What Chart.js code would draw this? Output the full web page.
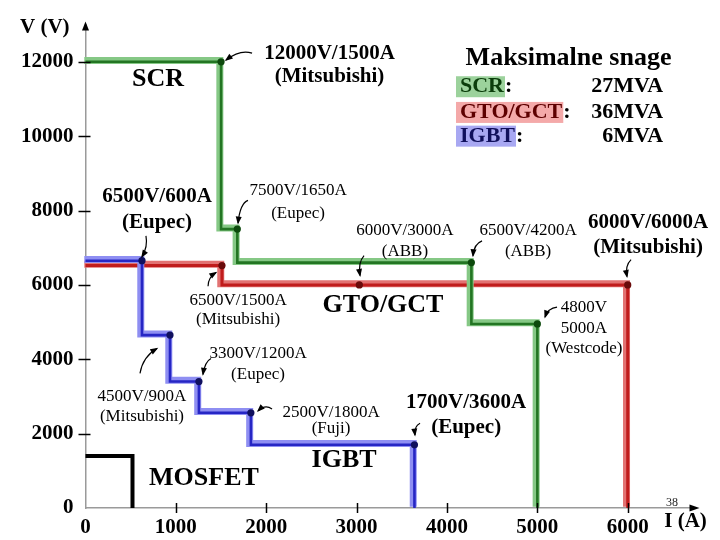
<!DOCTYPE html>
<html><head><meta charset="utf-8">
<script src="https://cdn.jsdelivr.net/npm/chart.js@4.4.1/dist/chart.umd.min.js"></script>
<style>html,body{margin:0;padding:0;background:#fff;}canvas{display:block;}</style>
</head><body>
<canvas id="c" width="720" height="540"></canvas>
<script>
// ---- data ----
const xTicks = [0, 1000, 2000, 3000, 4000, 5000, 6000];
const yTicks = [0, 2000, 4000, 6000, 8000, 10000, 12000];
// device ratings: current (A) and voltage (V)
const scrI  = [1500, 1680, 4270, 5000];
const scrV  = [12000, 7500, 6600, 4950];
const gtoI  = [1510, 3030, 6000];
const gtoV  = [6520, 6000, 6000];
const igbtI = [625, 935, 1255, 1830, 3640];
const igbtV = [6650, 4650, 3400, 2560, 1700];
const mosI  = [520];
const mosV  = [1400];
const legendNames  = ['SCR', 'GTO/GCT', 'IGBT'];
const legendPowers = ['27MVA', '36MVA', '6MVA'];

function stepPts(I, V) {
  const pts = [{x: 0, y: V[0]}];
  for (let k = 0; k < I.length; k++) {
    pts.push({x: I[k], y: V[k]});
    pts.push({x: I[k], y: k + 1 < V.length ? V[k + 1] : 0});
  }
  return pts;
}
function dotPts(I, V) { return I.map((x, k) => ({x: x, y: V[k]})); }

const SERIF = '"Liberation Serif", "Times New Roman", serif';

function lineDs(pts, color, width, halo) {
  return {data: pts, showLine: true, borderColor: color, backgroundColor: color, borderWidth: width,
    pointRadius: 0, pointHoverRadius: 0, tension: 0, fill: false, clip: false,
    borderJoinStyle: 'miter', borderCapStyle: 'butt', halo: !!halo};
}
function dotDs(pts, color) {
  return {data: pts, showLine: false, pointRadius: 3.6, pointBackgroundColor: color,
    pointBorderColor: color, pointBorderWidth: 0, clip: false};
}

// draw order (bottom first)
const drawOrder = [
  lineDs(stepPts(mosI, mosV), '#000000', 4),
  lineDs(stepPts(gtoI, gtoV), '#e27272', 7, true),
  lineDs(stepPts(gtoI, gtoV), '#c01c1c', 3),
  lineDs(stepPts(scrI, scrV), '#85c885', 7, true),
  lineDs(stepPts(scrI, scrV), '#237523', 2.6),
  lineDs(stepPts(igbtI, igbtV), '#8e8ef2', 7, true),
  lineDs(stepPts(igbtI, igbtV), '#2626c4', 2.6),
  dotDs(dotPts(gtoI, gtoV), '#6a0a0a'),
  dotDs(dotPts(scrI, scrV), '#0d4a0d'),
  dotDs(dotPts(igbtI, igbtV), '#10105e'),
];
const datasets = drawOrder.slice().reverse();

// text annotations anchored in data units
const B21 = 'bold 21px ' + SERIF, B26 = 'bold 26px ' + SERIF, R17 = '17px ' + SERIF;
const texts = [
  ['12000V/1500A', 2700, 12232, B21], ['(Mitsubishi)', 2700, 11594, B21],
  ['SCR', 802, 11541, B26],
  ['6500V/600A', 791, 8379, B21], ['(Eupec)', 791, 7688, B21],
  ['7500V/1650A', 2352, 8539, R17], ['(Eupec)', 2352, 7927, R17],
  ['6000V/3000A', 3535, 7449, R17], ['(ABB)', 3535, 6891, R17],
  ['6500V/4200A', 4897, 7449, R17], ['(ABB)', 4897, 6891, R17],
  ['6000V/6000A', 6225, 7688, B21], ['(Mitsubishi)', 6225, 6997, B21],
  ['GTO/GCT', 3292, 5456, B26],
  ['6500V/1500A', 1688, 5589, R17], ['(Mitsubishi)', 1688, 5057, R17],
  ['4800V', 5516, 5403, R17], ['5000A', 5516, 4818, R17], ['(Westcode)', 5516, 4287, R17],
  ['3300V/1200A', 1909, 4154, R17], ['(Eupec)', 1909, 3596, R17],
  ['4500V/900A', 625, 3011, R17], ['(Mitsubishi)', 625, 2453, R17],
  ['2500V/1800A', 2717, 2559, R17], ['(Fuji)', 2717, 2134, R17],
  ['1700V/3600A', 4212, 2825, B21], ['(Eupec)', 4212, 2161, B21],
  ['IGBT', 2861, 1284, B26],
  ['MOSFET', 1311, 805, B26],
];
// curved pointer arrows: from, control, to (data units)
const pointers = [
  [[1843, 12232], [1710, 12338], [1555, 12046]],
  [[669, 7316], [692, 7024], [625, 6758]],
  [[1798, 8273], [1710, 8193], [1688, 7662]],
  [[3082, 6785], [3015, 6599], [3038, 6253]],
  [[4388, 7183], [4299, 7103], [4288, 6785]],
  [[6037, 6678], [5970, 6519], [5992, 6226]],
  [[1356, 5961], [1356, 6200], [1444, 6333]],
  [[5218, 5403], [5118, 5376], [5085, 5137]],
  [[1389, 4021], [1322, 3941], [1300, 3596]],
  [[603, 3622], [636, 4074], [791, 4287]],
  [[2064, 2665], [1987, 2798], [1909, 2612]],
  [[3702, 2278], [3635, 2198], [3646, 1960]],
];

const deco = {
  id: 'deco',
  beforeDatasetDraw(chart, args) {
    const ds = chart.data.datasets[args.index];
    if (ds.halo) { chart.ctx.save(); chart.ctx.translate(-1.2, -1.2); }
  },
  afterDatasetDraw(chart, args) {
    const ds = chart.data.datasets[args.index];
    if (ds.halo) chart.ctx.restore();
  },
  afterDraw(chart) {
    const ctx = chart.ctx, xs = chart.scales.x, ys = chart.scales.y;
    const px = v => xs.getPixelForValue(v), py = v => ys.getPixelForValue(v);
    const ax = px(0), ay = py(0);
    ctx.save();
    // axis arrowheads
    ctx.fillStyle = '#000';
    const top = py(ys.max);
    ctx.beginPath(); ctx.moveTo(ax, top - 3); ctx.lineTo(ax - 3.5, top + 6); ctx.lineTo(ax + 3.5, top + 6); ctx.closePath(); ctx.fill();
    const right = px(xs.max);
    ctx.beginPath(); ctx.moveTo(right + 4, ay); ctx.lineTo(right - 6, ay - 3.5); ctx.lineTo(right - 6, ay + 3.5); ctx.closePath(); ctx.fill();
    // tick marks crossing axes
    ctx.strokeStyle = '#000'; ctx.lineWidth = 1.5;
    xTicks.forEach(v => { if (v === 0) return; const x = Math.round(px(v)) + 0.5; ctx.beginPath(); ctx.moveTo(x, ay - 5); ctx.lineTo(x, ay + 5); ctx.stroke(); });
    yTicks.forEach(v => { if (v === 0) return; const y = Math.round(py(v)) + 0.5; ctx.beginPath(); ctx.moveTo(ax - 7, y); ctx.lineTo(ax + 5, y); ctx.stroke(); });
    // axis titles
    ctx.fillStyle = '#000'; ctx.textBaseline = 'middle';
    ctx.font = 'bold 21px ' + SERIF; ctx.textAlign = 'left';
    ctx.fillText('V (V)', ax - 65.5, top + 3);
    ctx.textAlign = 'center';
    ctx.fillText('I (A)', px(6640), ay + 14);
    ctx.font = '12px ' + SERIF; ctx.fillStyle = '#222';
    ctx.fillText('38', px(6491), py(141));
    // annotation texts
    ctx.fillStyle = '#000';
    texts.forEach(t => { ctx.font = t[3]; ctx.textAlign = 'center'; ctx.fillText(t[0], px(t[1]), py(t[2])); });
    // pointer arrows
    ctx.strokeStyle = '#000'; ctx.lineWidth = 1.2;
    pointers.forEach(p => {
      const f = [px(p[0][0]), py(p[0][1])], c = [px(p[1][0]), py(p[1][1])], e = [px(p[2][0]), py(p[2][1])];
      ctx.beginPath(); ctx.moveTo(f[0], f[1]); ctx.quadraticCurveTo(c[0], c[1], e[0], e[1]); ctx.stroke();
      const a = Math.atan2(e[1] - c[1], e[0] - c[0]), L = 6.5, W = 3;
      ctx.beginPath(); ctx.moveTo(e[0] + Math.cos(a) * 1.5, e[1] + Math.sin(a) * 1.5);
      ctx.lineTo(e[0] - Math.cos(a) * L + Math.sin(a) * W, e[1] - Math.sin(a) * L - Math.cos(a) * W);
      ctx.lineTo(e[0] - Math.cos(a) * L - Math.sin(a) * W, e[1] - Math.sin(a) * L + Math.cos(a) * W);
      ctx.closePath(); ctx.fill();
    });
    // legend box "Maksimalne snage"
    ctx.font = 'bold 26px ' + SERIF; ctx.textAlign = 'center';
    ctx.fillText('Maksimalne snage', px(5345), py(12100));
    const rowV = [11329, 10638, 10000];
    const bg = ['#9cd29c', '#f4a9a9', '#a8a8f2'];
    const fg = ['#0b3d0b', '#5e0000', '#10105c'];
    ctx.font = 'bold 22px ' + SERIF;
    legendNames.forEach((n, k) => {
      const x0 = px(4144), y0 = py(rowV[k]);
      const w = ctx.measureText(n).width;
      ctx.fillStyle = bg[k]; ctx.fillRect(x0 - 4, y0 - 10.5, w + 5, 21);
      ctx.fillStyle = fg[k]; ctx.textAlign = 'left'; ctx.fillText(n, x0, y0);
      ctx.fillStyle = '#000'; ctx.fillText(':', x0 + w + 1, y0);
      ctx.textAlign = 'right'; ctx.fillText(legendPowers[k], px(6391), y0);
    });
    ctx.restore();
  }
};

new Chart(document.getElementById('c'), {
  type: 'scatter',
  data: {datasets: datasets},
  options: {
    responsive: false, animation: false, devicePixelRatio: 1,
    layout: {padding: {left: 0, right: 24.5, top: 19, bottom: 0}},
    plugins: {legend: {display: false}, tooltip: {enabled: false}},
    events: [],
    scales: {
      x: {
        type: 'linear', min: 0, max: 6750,
        border: {color: '#9a9a9a', width: 1.5},
        grid: {display: false, drawTicks: false},
        ticks: {color: '#000', padding: 7, autoSkip: false, maxRotation: 0,
          font: {family: SERIF, size: 21, weight: 'bold'}, callback: v => String(v)},
        afterBuildTicks(s) { s.ticks = xTicks.map(v => ({value: v})); },
        afterFit(s) { s.height = 32; }
      },
      y: {
        type: 'linear', min: 0, max: 13000,
        border: {color: '#9a9a9a', width: 1.5},
        grid: {display: false, drawTicks: false},
        ticks: {color: '#000', padding: 12, autoSkip: false,
          font: {family: SERIF, size: 21, weight: 'bold'}, callback: v => String(v)},
        afterBuildTicks(s) { s.ticks = yTicks.map(v => ({value: v})); },
        afterFit(s) { s.width = 85.5; }
      }
    }
  },
  plugins: [deco]
});
</script>
</body></html>
